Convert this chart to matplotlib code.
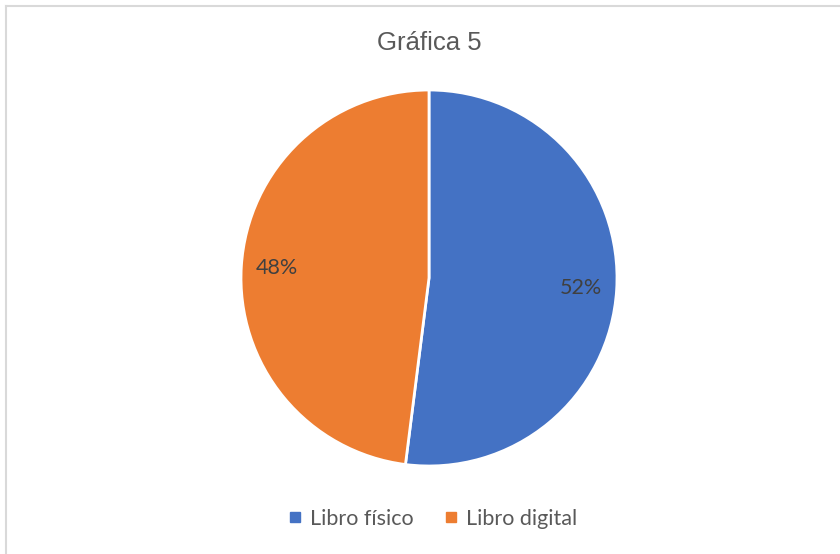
import matplotlib
matplotlib.use("Agg")
import matplotlib.pyplot as plt
from matplotlib.lines import Line2D

categories = ["Libro físico", "Libro digital"]
values = [52, 48]
colors = ["#4472C4", "#ED7D31"]
title = "Gráfica 5"

W, H = 840, 554
fig = plt.figure(figsize=(W / 100, H / 100), dpi=100)
fig.patch.set_facecolor("white")

# border (top and left only visible)
fig.add_artist(Line2D([6 / W, 1], [1 - 6 / H, 1 - 6 / H], transform=fig.transFigure,
                      color="#D9D9D9", linewidth=1.5))
fig.add_artist(Line2D([6 / W, 6 / W], [0, 1 - 6 / H], transform=fig.transFigure,
                      color="#D9D9D9", linewidth=1.5))

cx, cy, r = 429, 278, 188
ax = fig.add_axes([(cx - r) / W, (H - cy - r) / H, 2 * r / W, 2 * r / H])
wedges, texts, autotexts = ax.pie(
    values, colors=colors, startangle=90, counterclock=False,
    autopct="%1.0f%%", pctdistance=0.81, radius=1,
    wedgeprops=dict(edgecolor="white", linewidth=2),
    textprops=dict(fontsize=15.5, color="#404040", family=["Lato", "DejaVu Sans"]))
ax.set_xlim(-1, 1)
ax.set_ylim(-1, 1)
ax.set_aspect("equal")
ax.axis("off")

fig.text(cx / W, 1 - 43 / H, title, ha="center", va="center",
         fontsize=18.5, color="#595959", family=["Liberation Sans", "DejaVu Sans"])

handles = [Line2D([0], [0], marker="s", linestyle="none", markersize=7,
                  markerfacecolor=c, markeredgecolor=c) for c in colors]
fig.legend(handles, categories, loc="center", bbox_to_anchor=(432 / W, 1 - 519 / H),
           ncol=2, frameon=False, handletextpad=0.3, columnspacing=1.35,
           handlelength=0.8,
           prop=dict(family=["Lato", "DejaVu Sans"], size=15.5), labelcolor="#595959")

fig.savefig("out.png", dpi=100, facecolor="white")
